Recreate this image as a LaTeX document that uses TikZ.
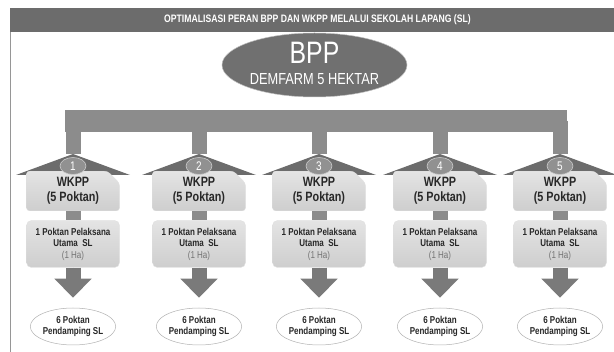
\documentclass[tikz,border=0pt]{standalone}
\usepackage{fontspec}
\setmainfont{Liberation Sans}[FakeStretch=0.8]
\usetikzlibrary{shapes.geometric,shapes.misc,arrows.meta,calc}
\definecolor{hdr}{RGB}{108,108,108}
\definecolor{bppfill}{RGB}{112,112,112}
\definecolor{barg}{RGB}{140,140,140}
\definecolor{roofg}{RGB}{108,108,108}
\definecolor{arrg}{RGB}{122,122,122}
\definecolor{numg}{RGB}{145,145,145}
\definecolor{boxtop}{RGB}{228,228,228}
\definecolor{boxbot}{RGB}{206,206,206}
\definecolor{txtg}{RGB}{40,40,40}
\definecolor{frameg}{RGB}{150,150,150}
\begin{document}
\begin{tikzpicture}[x=1pt,y=-1pt,
  stemline/.style={draw=barg,line width=15pt,line cap=butt},
  bigarrow/.style={draw=arrg,fill=arrg,line width=15pt,shorten >=10pt,-{Triangle[width=36pt,length=19pt]}},
  roof/.style={fill=roofg},
  wkbox/.style={chamfered rectangle,chamfered rectangle corners=north east,chamfered rectangle xsep=6pt,chamfered rectangle ysep=6pt,
    rounded corners=3pt,top color=boxtop,bottom color=boxbot,draw=gray!25,line width=0.4pt,
    minimum width=93pt,minimum height=34pt,inner sep=0pt,align=center,text=txtg,
    font=\fontsize{13.5}{15.5}\selectfont\bfseries},
  pokbox/.style={rectangle,rounded corners=5pt,top color=boxtop,bottom color=boxbot,draw=gray!25,line width=0.4pt,
    minimum width=93pt,minimum height=47pt,inner sep=0pt,align=center,text=txtg,
    font=\fontsize{10}{11.5}\selectfont\bfseries},
  numc/.style={ellipse,fill=numg,draw=gray!40,line width=0.6pt,minimum width=26pt,minimum height=17pt,inner sep=0pt,
    text=white,font=\fontsize{12.5}{13}\selectfont},
  pelips/.style={ellipse,fill=white,draw=gray!60,line width=0.5pt,minimum width=79pt,minimum height=37pt,inner sep=0pt,
    align=center,text=txtg,font=\fontsize{10}{11}\selectfont\bfseries}
]
\useasboundingbox (0,0) rectangle (614,352);
% frame and header
\node[rectangle,fill=hdr,minimum width=604pt,minimum height=24pt,inner sep=0pt] (header) at (312,20) {};
\node[text=white,font=\fontsize{10.8}{12}\selectfont\bfseries] (title) at (317.5,20) {OPTIMALISASI PERAN BPP DAN WKPP MELALUI SEKOLAH LAPANG (SL)};
\coordinate (frametop) at (10,32);
\coordinate (framebot) at (10,352);
\draw[frameg,line width=0.8pt] (frametop) -- (framebot);
% BPP
\node[ellipse,fill=bppfill,draw=gray!50,line width=0.5pt,minimum width=185pt,minimum height=64pt,inner sep=0pt] (bpp) at (314.5,65) {};
\node[text=white,font=\fontsize{31}{32}\selectfont] (bpptxt) at (314.5,53) {BPP};
\node[text=white,font=\fontsize{16}{17}\selectfont] (demfarm) at (314.5,79) {DEMFARM 5 HEKTAR};
% bar
\node[rectangle,fill=barg,minimum width=502pt,minimum height=22pt,inner sep=0pt] (bar) at (316,121) {};
\foreach \i/\cx in {1/73,2/199,3/319,4/440,5/560}{
  \coordinate (apex\i) at (\cx,154);
  \coordinate (stemtop\i) at (\cx,121);
  \draw[stemline] (stemtop\i) -- (apex\i);
  \fill[roof] (\cx-57,175) -- (apex\i) -- (\cx+57,175) -- cycle;
  \node[wkbox] (wk\i) at (\cx,191) {WKPP\\(5 Poktan)};
  \node[numc] (num\i) at (\cx,166) {\i};
  \node[pokbox] (pok\i) at (\cx,244) {1 Poktan Pelaksana\\Utama\ \ SL\\{\mdseries\color{gray!90!black}(1 Ha)}};
  \draw[stemline] (wk\i.south) -- (pok\i.north);
  \node[pelips] (el\i) at (\cx,326.5) {6 Poktan\\Pendamping SL};
  \draw[bigarrow] (pok\i.south) -- (el\i.north);
}
\end{tikzpicture}
\end{document}
